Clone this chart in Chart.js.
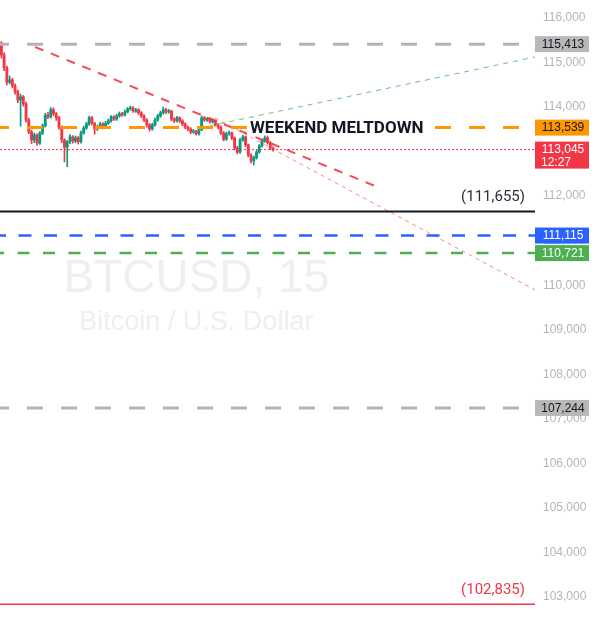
<!DOCTYPE html>
<html><head><meta charset="utf-8">
<script src="https://cdn.jsdelivr.net/npm/chart.js@4.4.1/dist/chart.umd.min.js"></script>
<style>html,body{margin:0;padding:0;background:#fff;overflow:hidden}canvas{display:block}</style>
</head><body>
<canvas id="c" width="595" height="625"></canvas>
<script>
// ---- candle data (BTCUSD, 15 min) ----
const opens = [115440,115170,114880,114560,114610,114470,114340,114160,114230,114070,113710,113440,113260,113370,113190,113420,113580,113820,113780,113940,113850,113760,113550,113260,113100,113220,113330,113240,113310,113220,113420,113530,113620,113760,113640,113510,113550,113620,113550,113640,113690,113780,113730,113800,113850,113820,113890,113960,113980,113910,113940,113870,113800,113710,113600,113510,113600,113710,113800,113870,113940,113890,113910,113730,113690,113760,113690,113620,113550,113510,113440,113460,113400,113490,113760,113710,113730,113670,113690,113600,113550,113420,113280,113400,113420,113310,113080,112990,113260,113330,113150,112920,112790,112860,112990,113130,113240,113310,113200,113080];
const highs = [115470,115220,114920,114700,114650,114520,114380,114290,114260,114110,113750,113480,113420,113400,113450,113620,113860,113880,113990,113980,113880,113790,113580,113290,113250,113380,113360,113350,113340,113460,113570,113660,113800,113790,113660,113590,113660,113650,113680,113730,113810,113810,113840,113890,113880,113930,113990,114020,114010,113970,113960,113900,113830,113740,113630,113640,113750,113840,113910,114000,113970,113950,113930,113760,113790,113780,113720,113650,113580,113540,113500,113480,113520,113800,113790,113770,113750,113730,113710,113630,113580,113450,113440,113460,113440,113330,113120,113300,113370,113350,113170,112950,112900,113030,113160,113280,113380,113530,113230,113110];
const lows = [115100,114820,114500,114520,114430,114290,114100,113570,114020,113660,113400,113180,113200,113140,113160,113380,113550,113740,113750,113810,113700,113500,113200,112770,112660,113180,113190,113200,113170,113190,113390,113500,113590,113600,113390,113470,113520,113510,113520,113610,113660,113700,113700,113770,113790,113800,113870,113930,113880,113880,113830,113760,113670,113550,113460,113480,113570,113680,113770,113840,113850,113860,113690,113650,113660,113650,113580,113510,113470,113400,113410,113370,113370,113470,113680,113680,113640,113640,113570,113510,113380,113240,113250,113370,113270,113040,112950,112960,113230,113110,112880,112740,112700,112830,112960,113100,113210,113170,113040,113010];
const closes = [115170,114880,114560,114610,114470,114340,114160,114230,114070,113710,113440,113260,113370,113190,113420,113580,113820,113780,113940,113850,113760,113550,113260,113100,113220,113330,113240,113310,113220,113420,113530,113620,113760,113640,113510,113550,113620,113550,113640,113690,113780,113730,113800,113850,113820,113890,113960,113980,113910,113940,113870,113800,113710,113600,113510,113600,113710,113800,113870,113940,113890,113910,113730,113690,113760,113690,113620,113550,113510,113440,113460,113400,113490,113760,113710,113730,113670,113690,113600,113550,113420,113280,113400,113420,113310,113080,112990,113260,113330,113150,112920,112790,112860,112990,113130,113240,113310,113200,113080,113045];

// ---- price axis ticks ----
const yTicks = [103000,104000,105000,106000,107000,108000,109000,110000,111000,112000,113000,114000,115000,116000];

// ---- horizontal price levels ----
const levelPrices = [115413, 113539, 113045, 111655, 111115, 110721, 107244, 102835];
const levelSubLabels = ['', '', '12:27', '', '', '', '', ''];

// ---- trend lines (candle index, price) ----
const trendStartX = [12.8, 78.4, 72.9];
const trendStartY = [115349, 113755, 113531];
const trendEndX = [136.7, 195, 195];
const trendEndY = [112228, 109894, 115124];

// ---- texts ----
const annotationText = 'WEEKEND MELTDOWN';
const annotationAt = [91.1, 113539];
const watermarkTitle = 'BTCUSD, 15';
const watermarkSub = 'Bitcoin / U.S. Dollar';

// ---- styles (kept apart from data) ----
const X_MIN = 0, X_MAX = 195, Y_MIN = 102371, Y_MAX = 116404;
const UP = '#089981', DOWN = '#f23645';
const levelStyles = [
  {color:'#b4b4b4', width:3, dash:[16,18], offset:7, box:'#b8b8b8', text:'#131722'},
  {color:'#ff9800', width:3, dash:[16,18], offset:7, box:'#ff9800', text:'#131722'},
  {color:'#f23645', width:1, dash:[2,2], offset:0, box:'#f23645', text:'#ffffff'},
  {color:'#131722', width:2, dash:[], offset:0, box:null, note:true, noteColor:'#2a2e39'},
  {color:'#2962ff', width:2.5, dash:[13,12.5], offset:7, box:'#2962ff', text:'#ffffff'},
  {color:'#4caf50', width:2.5, dash:[12,13.5], offset:8, box:'#4caf50', text:'#ffffff'},
  {color:'#b4b4b4', width:3, dash:[16,18], offset:7, box:'#b8b8b8', text:'#131722'},
  {color:'#f23645', width:1.5, dash:[], offset:0, box:null, note:true, noteColor:'#f23645'}
];
const trendStyles = [
  {color:'rgba(242,54,69,0.9)', width:2, dash:[9,8]},
  {color:'rgba(242,54,69,0.6)', width:1, dash:[4,4]},
  {color:'rgba(76,175,80,0.8)', width:1, dash:[5,5]}
];
const fmt = v => v.toLocaleString('en-US');

const candleColor = i => closes[i] >= opens[i] ? UP : DOWN;

const datasets = [];
levelPrices.forEach((p, k) => {
  const s = levelStyles[k];
  datasets.push({type:'line', data:[{x:X_MIN, y:p},{x:X_MAX, y:p}], borderColor:s.color, borderWidth:s.width,
    borderDash:s.dash, borderDashOffset:s.offset, pointRadius:0, fill:false, tension:0, order:1, borderCapStyle:'butt'});
});
trendStartX.forEach((x0, k) => {
  const s = trendStyles[k];
  datasets.push({type:'line', data:[{x:x0, y:trendStartY[k]},{x:trendEndX[k], y:trendEndY[k]}], borderColor:s.color,
    borderWidth:s.width, borderDash:s.dash, pointRadius:0, fill:false, tension:0, order:1});
});
datasets.push({type:'bar', grouped:false, order:10, barThickness:1,
  data: highs.map((h, i) => ({x:i + 0.5, y:[lows[i], h]})),
  backgroundColor: ctx => candleColor(ctx.dataIndex)});
datasets.push({type:'bar', grouped:false, order:9, barThickness:2.2, minBarLength:1,
  data: opens.map((o, i) => ({x:i + 0.5, y:[o, closes[i]]})),
  backgroundColor: ctx => candleColor(ctx.dataIndex)});

const overlay = {
  id:'overlay',
  beforeDatasetsDraw(chart){
    const c = chart.ctx, a = chart.chartArea;
    c.save();
    c.fillStyle = '#efefef';
    c.textAlign = 'center'; c.textBaseline = 'middle';
    const cx = a.left + (a.right - a.left) * 0.367;
    c.font = '46px "Liberation Sans", Arial, sans-serif';
    c.fillText(watermarkTitle, cx, 279);
    c.font = '27px "Liberation Sans", Arial, sans-serif';
    c.fillText(watermarkSub, cx, 323);
    c.restore();
  },
  afterDatasetsDraw(chart){
    const c = chart.ctx, a = chart.chartArea, xs = chart.scales.x, ys = chart.scales.y;
    c.save();
    c.font = '15px Roboto, "Liberation Sans", sans-serif';
    c.textAlign = 'right'; c.textBaseline = 'middle';
    levelPrices.forEach((p, k) => {
      const s = levelStyles[k];
      if (!s.note) return;
      c.fillStyle = s.noteColor;
      c.fillText('(' + fmt(p) + ')', a.right - 10, ys.getPixelForValue(p) - 14);
    });
    c.font = 'bold 17px Roboto, "Liberation Sans", sans-serif';
    c.textAlign = 'left';
    const tx = xs.getPixelForValue(annotationAt[0]), ty = ys.getPixelForValue(annotationAt[1]);
    const w = c.measureText(annotationText).width;
    c.fillStyle = '#ffffff';
    c.fillRect(tx - 3, ty - 8, w + 6, 16);
    c.fillStyle = '#131722';
    c.fillText(annotationText, tx, ty + 1);
    c.restore();
  },
  afterDraw(chart){
    const c = chart.ctx, a = chart.chartArea, ys = chart.scales.y;
    c.save();
    c.font = '12px "Liberation Sans", Arial, sans-serif';
    c.textAlign = 'center'; c.textBaseline = 'middle';
    levelPrices.forEach((p, k) => {
      const s = levelStyles[k];
      if (!s.box) return;
      const y = ys.getPixelForValue(p);
      const sub = levelSubLabels[k];
      const h = sub ? 27 : 16;
      c.fillStyle = s.box;
      c.fillRect(a.right, y - 8, 54, h);
      c.fillStyle = s.text;
      c.fillText(fmt(p), a.right + 28, y + 0.5);
      if (sub) c.fillText(sub, a.right + 21, y + 13.5);
    });
    c.restore();
  }
};

new Chart(document.getElementById('c'), {
  type:'bar',
  data:{datasets},
  plugins:[overlay],
  options:{
    responsive:false, animation:false, maintainAspectRatio:false,
    layout:{padding:0},
    plugins:{legend:{display:false}, tooltip:{enabled:false}},
    scales:{
      x:{type:'linear', min:X_MIN, max:X_MAX, display:false, offset:false},
      y:{position:'right', min:Y_MIN, max:Y_MAX,
        grid:{display:false, drawTicks:false}, border:{display:false},
        ticks:{padding:8, color:'#b2b5be', font:{family:'"Liberation Sans", Arial, sans-serif', size:12}, callback:v => fmt(v)},
        afterBuildTicks: s => { s.ticks = yTicks.map(v => ({value:v})); },
        afterFit: s => { s.width = 60; s.paddingTop = 0; s.paddingBottom = 0; }
      }
    }
  }
});
</script>
</body></html>
